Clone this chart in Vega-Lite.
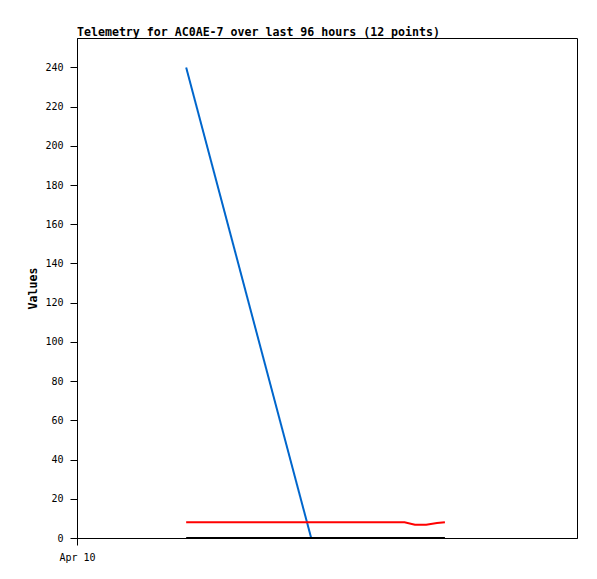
{
  "$schema": "https://vega.github.io/schema/vega-lite/v6.json",
  "width": 500,
  "height": 500,
  "autosize": "none",
  "padding": {"left": 77, "top": 38, "right": 20, "bottom": 41},
  "background": "white",
  "title": {
    "text": "Telemetry for AC0AE-7 over last 96 hours (12 points)",
    "anchor": "start",
    "frame": "group",
    "font": "DejaVu Sans Mono",
    "fontSize": 11.6,
    "fontWeight": "bold",
    "color": "black",
    "offset": -1
  },
  "config": {
    "view": {"stroke": "black", "strokeWidth": 1},
    "axis": {
      "domainColor": "black",
      "tickColor": "black",
      "labelColor": "black",
      "titleColor": "black",
      "labelFont": "DejaVu Sans Mono",
      "titleFont": "DejaVu Sans Mono",
      "labelFontSize": 10,
      "titleFontSize": 11.6,
      "grid": false,
      "tickSize": 7,
      "labelPadding": 7
    }
  },
  "data": {
    "values": [
      {"series": "a", "t": "2024-04-10T04:22:00Z", "v": 240},
      {"series": "a", "t": "2024-04-10T09:22:00Z", "v": 0},
      {"series": "b", "t": "2024-04-10T04:22:00Z", "v": 8.0},
      {"series": "b", "t": "2024-04-10T13:06:00Z", "v": 8.0},
      {"series": "b", "t": "2024-04-10T13:31:00Z", "v": 6.8},
      {"series": "b", "t": "2024-04-10T13:58:00Z", "v": 6.8},
      {"series": "b", "t": "2024-04-10T14:24:00Z", "v": 7.6},
      {"series": "b", "t": "2024-04-10T14:43:00Z", "v": 8.0},
      {"series": "c", "t": "2024-04-10T04:22:00Z", "v": 0},
      {"series": "c", "t": "2024-04-10T14:43:00Z", "v": 0}
    ]
  },
  "mark": {"type": "line", "strokeWidth": 2, "clip": true},
  "encoding": {
    "x": {
      "field": "t",
      "type": "temporal",
      "scale": {
        "type": "utc",
        "domain": [
          {"year": 2024, "month": 4, "date": 10, "hours": 0, "utc": true},
          {"year": 2024, "month": 4, "date": 10, "hours": 20, "utc": true}
        ]
      },
      "axis": {
        "title": null,
        "values": [{"year": 2024, "month": 4, "date": 10, "hours": 0, "utc": true}],
        "labelExpr": "utcFormat(datum.value, '%b %d')",
        "labelFlush": false
      }
    },
    "y": {
      "field": "v",
      "type": "quantitative",
      "scale": {"domain": [0, 255], "nice": false},
      "axis": {
        "title": "Values",
        "titleFontWeight": "bold",
        "values": [0, 20, 40, 60, 80, 100, 120, 140, 160, 180, 200, 220, 240],
        "titlePadding": 6
      }
    },
    "color": {
      "field": "series",
      "type": "nominal",
      "scale": {"domain": ["a", "b", "c"], "range": ["#0066cc", "#ff0000", "#000000"]},
      "legend": null
    },
    "order": {"field": "series", "sort": "descending"}
  }
}
